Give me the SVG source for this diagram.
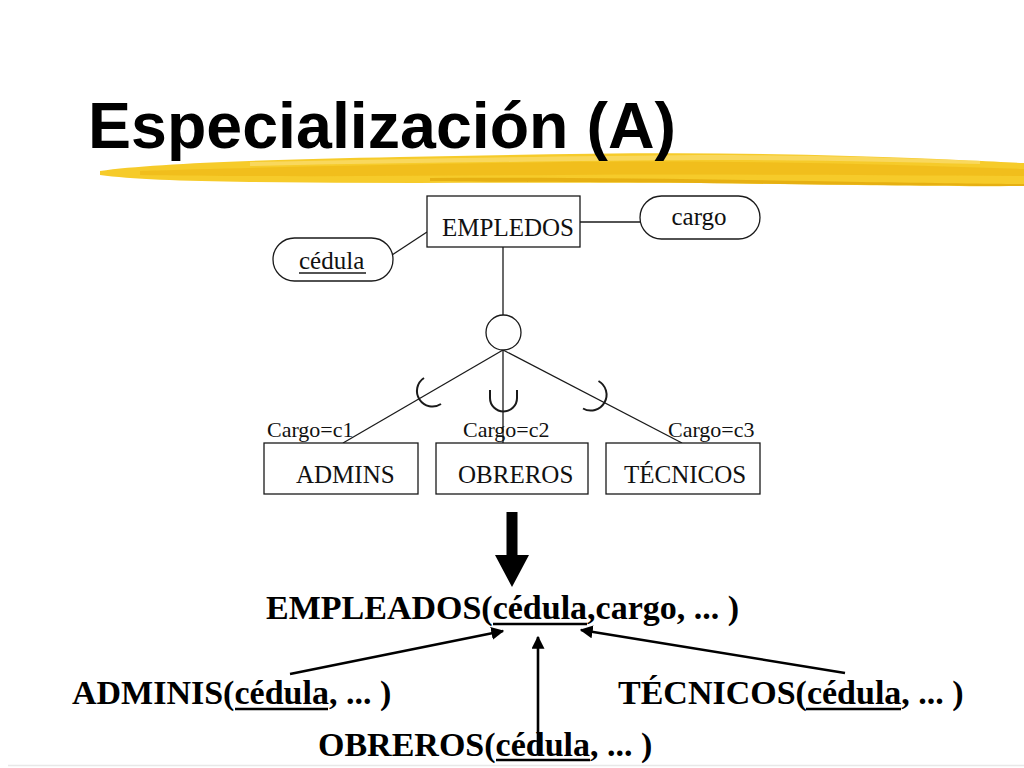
<svg xmlns="http://www.w3.org/2000/svg" width="1024" height="768" viewBox="0 0 1024 768">
<defs>
<style>
.ln{stroke:#1a1a1a;stroke-width:1.3;fill:none}
.arc{stroke:#1a1a1a;stroke-width:2;fill:none}
.box{fill:#fff;stroke:#1a1a1a;stroke-width:1.3}
.t{font-family:"Liberation Serif","Times New Roman",serif;font-size:25px;fill:#111}
.lbl{font-family:"Liberation Serif","Times New Roman",serif;font-size:22px;fill:#111}
.rel{font-family:"Liberation Serif","Times New Roman",serif;font-size:34px;font-weight:bold;fill:#000}
.ul{stroke:#000;stroke-width:2.6}
.arr{stroke:#000;stroke-width:2.6;fill:none;marker-end:url(#ah)}
</style>
<marker id="ah" viewBox="0 0 10 10" refX="9" refY="5" markerWidth="5" markerHeight="5" orient="auto" markerUnits="strokeWidth">
<path d="M0,0 L10,5 L0,10 Z" fill="#000"/>
</marker>
</defs>
<rect width="1024" height="768" fill="#fff"/>
<g id="brush">
<path d="M100 171 C150 164 250 160 400 157 C550 154 700 151 850 156 C950 159 1000 162 1024 163 L1024 186 C950 187 850 185 700 183 C550 182 400 184 250 182 C180 181 130 179 100 175 Z" fill="#F6CB2A"/>
<path d="M140 171 C260 167 420 164 560 162 C700 160 860 163 1024 169 L1024 176 C860 175 700 174 560 175 C420 176 260 177 140 175 Z" fill="#EDB410" opacity="0.55"/>
<path d="M250 162 C400 159 560 156 700 155 C820 155 900 158 980 161 L980 164 C900 162 820 160 700 160 C560 161 400 163 250 166 Z" fill="#FADB6A" opacity="0.8"/>
<path d="M430 178 C560 177 700 179 860 182 C940 183 1000 184 1024 184 L1024 186 C940 186 860 185 700 183 C560 182 500 182 430 181 Z" fill="#E2A90C" opacity="0.8"/>
</g>
<text id="title" x="88" y="148" font-family="'Liberation Sans',Arial,sans-serif" font-weight="bold" font-size="65" textLength="588" lengthAdjust="spacingAndGlyphs" fill="#000">Especialización (A)</text>
<g id="connectors">
<line class="ln" x1="580" y1="222" x2="640" y2="222"/>
<line class="ln" x1="392" y1="255" x2="427" y2="232"/>
<line class="ln" x1="503" y1="247" x2="503" y2="315"/>
<line class="ln" x1="503" y1="350" x2="343" y2="443"/>
<line class="ln" x1="503" y1="350" x2="503" y2="443"/>
<line class="ln" x1="503" y1="350" x2="682" y2="443"/>
<path class="arc" d="M441 404 A15.5 15.5 0 0 1 424 378"/>
<path class="arc" d="M490 390 L490 398 A13.5 13.5 0 0 0 517 398 L517 390"/>
<path class="arc" d="M583 408.5 A15.5 15.5 0 0 0 598.5 381"/>
</g>
<g id="empledos">
<rect class="box" x="427" y="196" width="153" height="51"/>
<text class="t" x="508" y="236" text-anchor="middle">EMPLEDOS</text>
</g>
<g id="cargo">
<rect class="box" x="640" y="196" width="120" height="43" rx="21.5"/>
<text class="t" x="699" y="225" text-anchor="middle">cargo</text>
</g>
<g id="cedula">
<rect class="box" x="273" y="238" width="120" height="43" rx="21.5"/>
<text class="t" x="299" y="269">cédula</text>
<line class="ln" x1="299" y1="273" x2="366" y2="273"/>
</g>
<g id="disjoint">
<circle class="box" cx="503.5" cy="332.5" r="17.5"/>
</g>
<g id="admins">
<rect class="box" x="264" y="443" width="154" height="51"/>
<text class="t" x="296" y="483">ADMINS</text>
<text class="lbl" x="267" y="437">Cargo=c1</text>
</g>
<g id="obreros">
<rect class="box" x="436" y="443" width="152" height="51"/>
<text class="t" x="458" y="483">OBREROS</text>
<text class="lbl" x="463" y="437">Cargo=c2</text>
</g>
<g id="tecnicos">
<rect class="box" x="606" y="443" width="154" height="51"/>
<text class="t" x="624" y="483">TÉCNICOS</text>
<text class="lbl" x="668" y="437">Cargo=c3</text>
</g>
<g id="bigarrow">
<polygon points="506.5,512 517.5,512 517.5,555 529,555 512,587 495,555 506.5,555" fill="#000"/>
</g>
<g id="rel-empleados">
<text class="rel" x="266" y="619">EMPLEADOS(cédula,cargo, ... )</text>
<line class="ul" x1="493" y1="624" x2="587" y2="624"/>
</g>
<g id="rel-adminis">
<text class="rel" x="72" y="704">ADMINIS(cédula, ... )</text>
<line class="ul" x1="235" y1="709" x2="328" y2="709"/>
</g>
<g id="rel-tecnicos">
<text class="rel" x="618" y="704">TÉCNICOS(cédula, ... )</text>
<line class="ul" x1="806" y1="709" x2="901" y2="709"/>
</g>
<g id="rel-obreros">
<text class="rel" x="318" y="756">OBREROS(cédula, ... )</text>
<line class="ul" x1="496" y1="760" x2="590" y2="760"/>
</g>
<g id="fk-arrows">
<line class="arr" x1="290" y1="674" x2="503" y2="631"/>
<line class="arr" x1="538" y1="755" x2="538" y2="637"/>
<line class="arr" x1="845" y1="673" x2="581" y2="630"/>
</g>
<line x1="8" y1="765.5" x2="1024" y2="765.5" stroke="#e8e8e8" stroke-width="1.5"/>
</svg>
